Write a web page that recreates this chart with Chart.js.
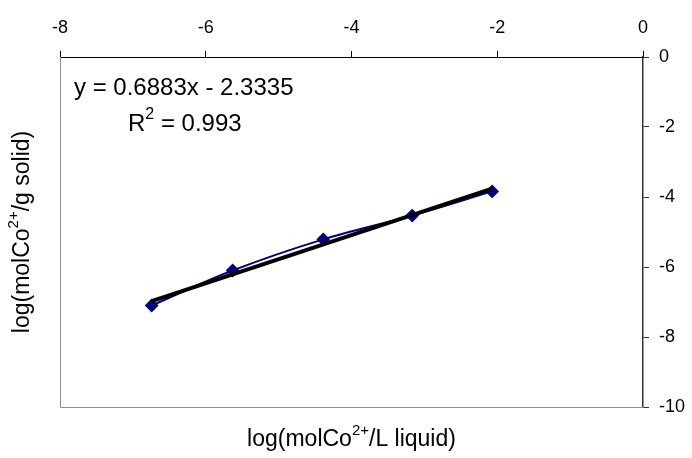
<!DOCTYPE html>
<html>
<head>
<meta charset="utf-8">
<script src="https://cdn.jsdelivr.net/npm/chart.js@4/dist/chart.umd.min.js"></script>
<style>
  html, body { margin: 0; padding: 0; background: #ffffff; }
  #wrap { width: 692px; height: 458px; }
</style>
</head>
<body>
<div id="wrap"><canvas id="c" width="692" height="458"></canvas></div>
<script>
// Freundlich-type isotherm, log-log form
const logLiquid = [-6.742, -5.631, -4.388, -3.167, -2.070];   // log(mol Co2+/L liquid)
const logSolid  = [-7.10, -6.10, -5.21, -4.53, -3.84];        // log(mol Co2+/g solid)

// Linear trendline as stated in the equation label
const slope = 0.6883;
const intercept = -2.3335;
const rSquared = 0.993;

const xTicks = [-8, -6, -4, -2, 0];
const yTicks = [0, -2, -4, -6, -8, -10];

const FONT = '"Liberation Sans", Arial, sans-serif';

const measured = logLiquid.map((x, i) => ({ x: x, y: logSolid[i] }));
const xFirst = logLiquid[0];
const xLast = logLiquid[logLiquid.length - 1];
const trend = [
  { x: xFirst, y: slope * xFirst + intercept },
  { x: xLast,  y: slope * xLast + intercept }
];

// Draw a run of text pieces, some of them superscript
function drawRich(ctx, parts, x, y, size, align) {
  const supSize = Math.round(size * 0.65);
  let total = 0;
  parts.forEach(p => {
    ctx.font = (p.sup ? supSize : size) + 'px ' + FONT;
    p.w = ctx.measureText(p.t).width;
    total += p.w;
  });
  let cx = align === 'center' ? x - total / 2 : x;
  ctx.textBaseline = 'middle';
  ctx.textAlign = 'left';
  parts.forEach(p => {
    ctx.font = (p.sup ? supSize : size) + 'px ' + FONT;
    ctx.fillText(p.t, cx, p.sup ? y - size * 0.38 : y);
    cx += p.w;
  });
}

const decorations = {
  id: 'decorations',
  beforeDatasetsDraw(chart) {
    const ctx = chart.ctx;
    const a = chart.chartArea;
    ctx.save();
    // left and bottom frame of the plot area
    ctx.strokeStyle = '#8c8c8c';
    ctx.lineWidth = 1;
    ctx.beginPath();
    ctx.moveTo(a.left + 0.5, a.top);
    ctx.lineTo(a.left + 0.5, a.bottom + 0.5);
    ctx.lineTo(a.right, a.bottom + 0.5);
    ctx.stroke();
    ctx.restore();
  },
  afterDraw(chart) {
    const ctx = chart.ctx;
    const a = chart.chartArea;
    ctx.save();
    ctx.fillStyle = '#000000';
    // axis titles
    drawRich(ctx, [{ t: 'log(molCo' }, { t: '2+', sup: true }, { t: '/L liquid)' }],
      (a.left + a.right) / 2, 440, 23, 'center');
    ctx.save();
    ctx.translate(23, (a.top + a.bottom) / 2);
    ctx.rotate(-Math.PI / 2);
    drawRich(ctx, [{ t: 'log(molCo' }, { t: '2+', sup: true }, { t: '/g solid)' }],
      0, 0, 23, 'center');
    ctx.restore();
    // trendline equation and R²
    const b = Math.abs(intercept).toFixed(4);
    drawRich(ctx, [{ t: 'y = ' + slope.toFixed(4) + 'x - ' + b }], a.left + 14, a.top + 31, 24, 'left');
    drawRich(ctx, [{ t: 'R' }, { t: '2', sup: true }, { t: ' = ' + rSquared.toFixed(3) }], a.left + 68, a.top + 67, 24, 'left');
    ctx.restore();
  }
};

new Chart(document.getElementById('c'), {
  type: 'scatter',
  data: {
    datasets: [
      {
        label: 'trend',
        data: trend,
        showLine: true,
        borderColor: '#000000',
        borderWidth: 4,
        pointRadius: 0,
        order: 0
      },
      {
        label: 'data',
        data: measured,
        showLine: true,
        tension: 0.35,
        borderColor: '#000080',
        borderWidth: 2,
        pointStyle: 'rectRot',
        pointRadius: 5.5,
        pointBackgroundColor: '#000080',
        pointBorderColor: '#000080',
        order: 1
      }
    ]
  },
  options: {
    responsive: false,
    animation: false,
    devicePixelRatio: 1,
    layout: { padding: { left: 60, right: 0, top: 0, bottom: 51 } },
    plugins: { legend: { display: false }, tooltip: { enabled: false } },
    scales: {
      x: {
        type: 'linear',
        position: 'top',
        min: -8, max: 0,
        afterBuildTicks: s => { s.ticks = xTicks.map(v => ({ value: v })); },
        afterFit: s => { s.height = 57; },
        ticks: { color: '#000', font: { family: FONT, size: 18 }, padding: 12, maxRotation: 0 },
        grid: { drawOnChartArea: false, drawTicks: true, tickLength: 6, color: '#000' },
        border: { display: true, color: '#000', width: 1 }
      },
      y: {
        type: 'linear',
        position: 'right',
        min: -10, max: 0,
        afterBuildTicks: s => { s.ticks = yTicks.map(v => ({ value: v })); },
        afterFit: s => { s.width = 49; },
        ticks: { color: '#000', font: { family: FONT, size: 18 }, padding: 10 },
        grid: { drawOnChartArea: false, drawTicks: true, tickLength: 6, color: '#333' },
        border: { display: true, color: '#333', width: 1.5 }
      }
    }
  },
  plugins: [decorations]
});
</script>
</body>
</html>
